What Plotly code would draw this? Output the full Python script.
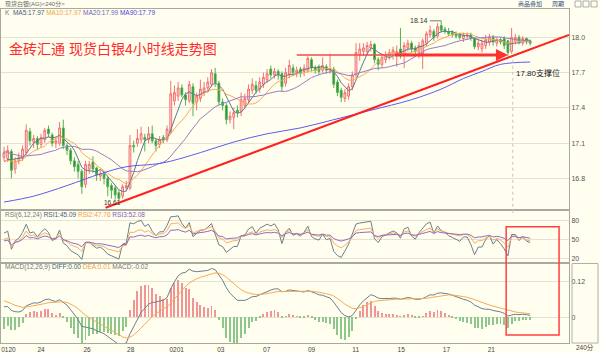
import numpy as np
import pandas as pd
import plotly.graph_objects as go

W, H = 600, 353

# ---------------- data (4-hour candles, spot silver) ----------------
opens = [16.98, 16.97, 17.03, 16.88, 16.95, 16.97, 17.02, 17.20, 17.11, 17.14,
         17.09, 17.13, 17.22, 17.17, 17.10, 17.10, 17.23, 17.08, 17.04, 16.95,
         16.92, 16.86, 16.75, 16.88, 16.94, 16.89, 16.82, 16.84, 16.80, 16.74,
         16.72, 16.68, 16.65, 16.72, 16.72, 17.08, 17.10, 17.13, 17.15, 17.13,
         17.18, 17.12, 17.09, 17.15, 17.13, 17.20, 17.46, 17.50, 17.57, 17.51,
         17.46, 17.58, 17.45, 17.48, 17.53, 17.57, 17.60, 17.69, 17.61, 17.45,
         17.42, 17.30, 17.32, 17.38, 17.37, 17.42, 17.47, 17.55, 17.59, 17.56,
         17.60, 17.64, 17.73, 17.68, 17.71, 17.69, 17.61, 17.68, 17.74, 17.70,
         17.73, 17.71, 17.72, 17.81, 17.74, 17.75, 17.72, 17.75, 17.72, 17.73,
         17.62, 17.55, 17.48, 17.50, 17.58, 17.68, 17.85, 17.88, 17.88, 17.91,
         17.94, 17.81, 17.77, 17.81, 17.84, 17.85, 17.86, 17.90, 17.86, 17.91,
         17.95, 17.91, 17.87, 17.86, 17.95, 18.02, 18.05, 18.01, 18.10, 18.07,
         18.05, 18.04, 18.03, 18.02, 17.99, 18.01, 18.02, 17.99, 17.92, 17.90,
         17.93, 17.96, 18.00, 17.95, 17.98, 17.99, 17.97, 17.88, 17.97, 18.00,
         17.95, 17.99, 17.97]
highs = [17.07, 17.08, 17.05, 16.98, 17.02, 17.08, 17.26, 17.23, 17.17, 17.16,
         17.18, 17.23, 17.25, 17.19, 17.15, 17.28, 17.30, 17.10, 17.06, 16.98,
         16.95, 16.88, 16.95, 16.95, 16.99, 16.90, 16.87, 16.85, 16.82, 16.76,
         16.74, 16.70, 16.75, 16.78, 17.17, 17.12, 17.22, 17.24, 17.18, 17.24,
         17.25, 17.14, 17.16, 17.17, 17.25, 17.63, 17.59, 17.62, 17.60, 17.53,
         17.63, 17.61, 17.53, 17.64, 17.62, 17.66, 17.73, 17.74, 17.63, 17.48,
         17.44, 17.37, 17.40, 17.42, 17.53, 17.52, 17.60, 17.65, 17.63, 17.66,
         17.70, 17.73, 17.76, 17.74, 17.73, 17.71, 17.74, 17.81, 17.77, 17.75,
         17.75, 17.77, 17.84, 17.83, 17.76, 17.77, 17.83, 17.77, 17.86, 17.75,
         17.64, 17.57, 17.56, 17.61, 17.71, 17.95, 17.95, 17.95, 17.96, 17.97,
         17.95, 17.83, 17.86, 17.88, 17.90, 17.92, 17.93, 18.08, 17.96, 17.98,
         17.97, 17.93, 17.96, 17.99, 18.05, 18.10, 18.07, 18.12, 18.14, 18.09,
         18.08, 18.06, 18.05, 18.04, 18.04, 18.04, 18.04, 18.00, 17.98, 17.98,
         18.02, 18.03, 18.02, 18.00, 18.00, 18.01, 17.98, 18.08, 18.03, 18.02,
         18.01, 18.00, 17.98]
lows = [16.95, 16.94, 16.80, 16.84, 16.92, 16.95, 17.00, 17.08, 17.06, 17.04,
        17.06, 17.10, 17.15, 17.07, 17.06, 17.08, 17.05, 17.00, 16.92, 16.86,
        16.80, 16.67, 16.72, 16.84, 16.85, 16.78, 16.78, 16.75, 16.65, 16.63,
        16.62, 16.61, 16.63, 16.70, 16.70, 17.02, 17.07, 17.10, 17.03, 17.10,
        17.10, 17.03, 17.06, 17.10, 17.11, 17.18, 17.42, 17.46, 17.49, 17.42,
        17.44, 17.33, 17.38, 17.45, 17.50, 17.54, 17.58, 17.58, 17.42, 17.38,
        17.26, 17.27, 17.22, 17.32, 17.33, 17.39, 17.44, 17.52, 17.52, 17.53,
        17.57, 17.61, 17.65, 17.65, 17.64, 17.54, 17.58, 17.65, 17.67, 17.66,
        17.66, 17.67, 17.70, 17.71, 17.69, 17.68, 17.70, 17.69, 17.69, 17.57,
        17.50, 17.45, 17.45, 17.47, 17.55, 17.65, 17.80, 17.84, 17.85, 17.88,
        17.78, 17.72, 17.74, 17.78, 17.81, 17.81, 17.75, 17.82, 17.74, 17.88,
        17.87, 17.85, 17.82, 17.73, 17.92, 18.00, 17.97, 17.99, 18.04, 18.03,
        18.01, 18.00, 17.99, 17.98, 17.96, 17.98, 17.97, 17.90, 17.89, 17.87,
        17.90, 17.93, 17.93, 17.92, 17.94, 17.90, 17.84, 17.86, 17.94, 17.94,
        17.93, 17.94, 17.93]
closes = [17.02, 17.04, 16.87, 16.95, 16.98, 17.05, 17.21, 17.12, 17.14, 17.09,
          17.15, 17.21, 17.18, 17.10, 17.12, 17.23, 17.08, 17.04, 16.95, 16.90,
          16.86, 16.73, 16.92, 16.92, 16.88, 16.83, 16.84, 16.80, 16.73, 16.70,
          16.66, 16.63, 16.73, 16.74, 17.08, 17.07, 17.14, 17.18, 17.13, 17.18,
          17.12, 17.08, 17.13, 17.13, 17.22, 17.52, 17.53, 17.57, 17.51, 17.47,
          17.60, 17.44, 17.50, 17.56, 17.57, 17.62, 17.70, 17.61, 17.45, 17.42,
          17.30, 17.33, 17.36, 17.36, 17.47, 17.48, 17.56, 17.60, 17.55, 17.62,
          17.66, 17.69, 17.68, 17.71, 17.68, 17.58, 17.70, 17.76, 17.70, 17.72,
          17.70, 17.74, 17.82, 17.74, 17.72, 17.71, 17.76, 17.72, 17.73, 17.60,
          17.53, 17.49, 17.53, 17.58, 17.68, 17.87, 17.90, 17.91, 17.93, 17.94,
          17.81, 17.77, 17.83, 17.85, 17.87, 17.89, 17.88, 17.85, 17.93, 17.95,
          17.90, 17.88, 17.93, 17.97, 18.03, 18.06, 18.00, 18.09, 18.06, 18.05,
          18.03, 18.02, 18.01, 18.00, 18.02, 18.02, 17.99, 17.92, 17.95, 17.95,
          17.98, 18.00, 17.96, 17.98, 17.96, 17.93, 17.87, 18.00, 18.00, 17.96,
          17.99, 17.96, 17.95]

# closes before the first visible candle (warm-up for the moving averages)
pre_closes = [17.12, 17.15, 17.10, 17.14, 17.18, 17.12, 17.08, 17.10, 17.05, 17.02,
              16.98, 16.95, 17.00, 16.96, 16.90, 16.93, 16.88, 16.92, 16.95]

# long moving average, read at sampled candles
ma90_idx = [0, 8, 17, 26, 33, 40, 44, 53, 62, 71, 80, 89, 99, 110, 118, 124, 129, 134, 142]
ma90_val = [16.60, 16.65, 16.74, 16.84, 16.90, 16.92, 16.94, 17.02, 17.11, 17.18,
            17.23, 17.30, 17.38, 17.47, 17.56, 17.65, 17.71, 17.77, 17.79]

# indicator state at the first visible candle
macd_seed = {"ema12": 16.99, "ema26": 16.955, "dea": 0.06}
rsi_seed = {"gain": 0.02, "abs": 0.04}

date_labels = ["0120", "24", "26", "28", "0201", "03", "07", "09", "11", "15", "17", "21"]
date_idx = [1.2, 10, 22.4, 34.2, 46.6, 58.5, 70.9, 83, 94.9, 107.2, 119.4, 131.5]

price_ticks = [16.8, 17.1, 17.4, 17.7, 18.0]
rsi_ticks = [20, 50, 80]
macd_ticks = [0, 0.12]

high_idx, high_val = 118, 18.14
low_label = "16.61"
support_idx, support_val = 136, 17.85
resist_start_idx = 79
trend_start = (27.4, 16.551)
trend_end = (152.5, 18.021)

# ---------------- indicators ----------------
n0 = len(pre_closes)
allc = pd.Series(pre_closes + closes)
ma5 = allc.rolling(5).mean().values[n0:]
ma10 = allc.rolling(10).mean().values[n0:]
ma20 = allc.rolling(20).mean().values[n0:]

def rsi(n):
    arr = np.array(pre_closes + closes)
    g, a = rsi_seed["gain"], rsi_seed["abs"]
    out = []
    prev = arr[0]
    for p in arr:
        d = p - prev
        prev = p
        g = (max(d, 0) + (n - 1) * g) / n
        a = (abs(d) + (n - 1) * a) / n
        out.append(100 * g / a if a > 0 else 50)
    return np.array(out)[n0:]

rsi1, rsi2, rsi3 = rsi(6), rsi(12), rsi(24)

e12, e26, dea = macd_seed["ema12"], macd_seed["ema26"], macd_seed["dea"]
diff_l, dea_l = [], []
for p in closes:
    e12 += (p - e12) * 2 / 13
    e26 += (p - e26) * 2 / 27
    d = e12 - e26
    dea += (d - dea) * 2 / 10
    diff_l.append(d)
    dea_l.append(dea)
diff_a = np.array(diff_l)
dea_a = np.array(dea_l)
macd_h = 2 * (diff_a - dea_a)

idx = list(range(len(closes)))

# ---------------- figure ----------------
def px(x):
    return x / W

def py(y):
    return 1 - y / H

BG = "#FFFEEF"
GRID = "#E4E2D0"
AX = "#A9A9A0"
FONT = "Liberation Sans, Noto Sans CJK SC, sans-serif"
C_MA5, C_MA10, C_MA20, C_MA90 = "#60798C", "#F6AA55", "#9A7CC6", "#5C5CEB"

fig = go.Figure()
fig.add_trace(go.Candlestick(
    x=idx, open=opens, high=highs, low=lows, close=closes,
    increasing=dict(line=dict(color="#F27272", width=1), fillcolor="#FFDCD8"),
    decreasing=dict(line=dict(color="#55B055", width=1), fillcolor="#209020"),
    xaxis="x", yaxis="y", hoverinfo="skip", showlegend=False))
for vals, col in [(ma5, C_MA5), (ma10, C_MA10), (ma20, C_MA20)]:
    fig.add_trace(go.Scatter(x=idx, y=vals, mode="lines", line=dict(color=col, width=1),
                             xaxis="x", yaxis="y", showlegend=False, hoverinfo="skip"))
fig.add_trace(go.Scatter(x=ma90_idx, y=ma90_val, mode="lines",
                         line=dict(color=C_MA90, width=1, shape="spline"),
                         xaxis="x", yaxis="y", showlegend=False, hoverinfo="skip"))

for vals, col in [(rsi1, "#6C7F8E"), (rsi2, "#F7AF5E"), (rsi3, "#8F6CC0")]:
    fig.add_trace(go.Scatter(x=idx, y=vals, mode="lines", line=dict(color=col, width=1),
                             xaxis="x2", yaxis="y2", showlegend=False, hoverinfo="skip"))

fig.add_trace(go.Bar(x=idx, y=macd_h, width=0.26,
                     marker=dict(color=["#F29494" if v >= 0 else "#8CC78C" for v in macd_h],
                                 line=dict(width=0)),
                     xaxis="x3", yaxis="y3", showlegend=False, hoverinfo="skip"))
fig.add_trace(go.Scatter(x=idx, y=diff_a, mode="lines", line=dict(color="#6C7F8E", width=1),
                         xaxis="x3", yaxis="y3", showlegend=False, hoverinfo="skip"))
fig.add_trace(go.Scatter(x=idx, y=dea_a, mode="lines", line=dict(color="#F7AA55", width=1),
                         xaxis="x3", yaxis="y3", showlegend=False, hoverinfo="skip"))

xr = [-0.81, 152.5]
xdom = [0, px(569)]
common_x = dict(range=xr, domain=xdom, showgrid=False, zeroline=False, showline=True,
                mirror=True, linecolor=AX, linewidth=1, ticks="", fixedrange=True)
common_y = dict(side="right", showgrid=True, gridcolor=GRID, gridwidth=1, zeroline=False,
                showline=True, mirror=True, linecolor=AX, linewidth=1, ticks="",
                tickfont=dict(size=7, color="#555", family=FONT), fixedrange=True)

fig.update_layout(
    width=W, height=H, margin=dict(l=0, r=0, t=0, b=0),
    paper_bgcolor=BG, plot_bgcolor=BG, bargap=0,
    font=dict(family=FONT),
    xaxis=dict(**common_x, anchor="y", showticklabels=False, rangeslider=dict(visible=False)),
    xaxis2=dict(**common_x, anchor="y2", showticklabels=False, matches="x"),
    xaxis3=dict(**common_x, anchor="y3", matches="x", tickmode="array", tickvals=date_idx,
                ticktext=date_labels, tickfont=dict(size=6.5, color="#444", family=FONT)),
    yaxis=dict(**common_y, anchor="x", domain=[py(211), py(9)], range=[16.534, 18.241],
               tickvals=price_ticks, ticktext=[f"{v:.1f}" for v in price_ticks]),
    yaxis2=dict(**common_y, anchor="x2", domain=[py(265), py(211)], range=[11.9, 97.8],
                tickvals=rsi_ticks, ticktext=[str(v) for v in rsi_ticks]),
    yaxis3=dict(**common_y, anchor="x3", domain=[py(345), py(265)], range=[-0.0867, 0.18],
                tickvals=macd_ticks, ticktext=["0", "0.12"]),
)

shapes = []
# trend line
shapes.append(dict(type="line", xref="x", yref="y", x0=trend_start[0], y0=trend_start[1],
                   x1=trend_end[0], y1=trend_end[1], line=dict(color="#FF2020", width=2)))
# thin part of horizontal resistance line
shapes.append(dict(type="line", xref="x", yref="y", x0=resist_start_idx, y0=support_val,
                   x1=105, y1=support_val, line=dict(color="#F24A4A", width=1.5)))
# dotted vertical guide
shapes.append(dict(type="line", xref="x", yref="paper", x0=support_idx + 1.3, x1=support_idx + 1.3,
                   y0=py(214), y1=py(58), line=dict(color="#C8C8C0", width=1, dash="dot")))
# red box around recent indicators
shapes.append(dict(type="rect", xref="paper", yref="paper", x0=px(506), x1=px(559),
                   y0=py(337), y1=py(228), line=dict(color="#FF4040", width=1.5)))
# right-side box of the MACD axis
shapes.append(dict(type="rect", xref="paper", yref="paper", x0=px(572), x1=px(598),
                   y0=py(345), y1=py(265), line=dict(color="#B0B0A8", width=1)))
# little icons in the top bar
for x0 in (575, 583, 591):
    shapes.append(dict(type="rect", xref="paper", yref="paper", x0=px(x0), x1=px(x0 + 6),
                       y0=py(7), y1=py(1), line=dict(color="#9A9A9A", width=0.8)))
fig.update_layout(shapes=shapes)

ann = []
def txt(x, y, s, size=6.5, color="#444", xanchor="left", **kw):
    ann.append(dict(x=px(x), y=py(y), xref="paper", yref="paper", text=s, showarrow=False,
                    xanchor=xanchor, yanchor="middle", font=dict(size=size, color=color, family=FONT), **kw))

txt(2, 4, "现货白银(AG)&lt;240分&gt;", size=6, color="#666")
txt(530, 4, "商品叠加", size=6, color="#2E4A78", xanchor="center")
txt(558, 4, "周期", size=6, color="#2E4A78", xanchor="center")
txt(2, 13, "K  <span style='color:#3F5D7A'>MA5:17.97</span> <span style='color:#F0A040'>MA10:17.97</span> "
           "<span style='color:#6F62B8'>MA20:17.99</span> <span style='color:#4646E0'>MA90:17.79</span>",
    size=6.5, color="#777")
txt(2, 216.5, "RSI(6,12,24) <span style='color:#3F5D7A'>RSI1:45.09</span> <span style='color:#F0A040'>RSI2:47.76</span> "
              "<span style='color:#7E5CB8'>RSI3:52.08</span>", size=6.5, color="#777")
txt(2, 269, "MACD(12,26,9) <span style='color:#3F5D7A'>DIFF:0.00</span> <span style='color:#F0A040'>DEA:0.01</span> "
            "<span style='color:#777'>MACD:-0.02</span>", size=6.5, color="#777")
txt(6, 49, "金砖汇通 现货白银4小时线走势图", size=14, color="#FF2B2B")
txt(538, 73, "17.80支撑位", size=8, color="#222", xanchor="center")
txt(574, 349, "240分", size=6.5, color="#444")
txt(112, 203.5, low_label, size=6.5, color="#333", xanchor="center")

ann.append(dict(x=high_idx, y=high_val, xref="x", yref="y", text="18.14", showarrow=True,
                arrowhead=0, arrowwidth=0.8, arrowcolor="#555", ax=-22, ay=0,
                font=dict(size=7, color="#333", family=FONT)))
# thick arrow part of the horizontal line
ann.append(dict(x=support_idx, y=support_val, xref="x", yref="y", ax=105, ay=support_val,
                axref="x", ayref="y", text="", showarrow=True, arrowhead=2, arrowsize=0.8,
                arrowwidth=3, arrowcolor="#FF3030"))
fig.update_layout(annotations=ann)

fig.write_html("out.html")
